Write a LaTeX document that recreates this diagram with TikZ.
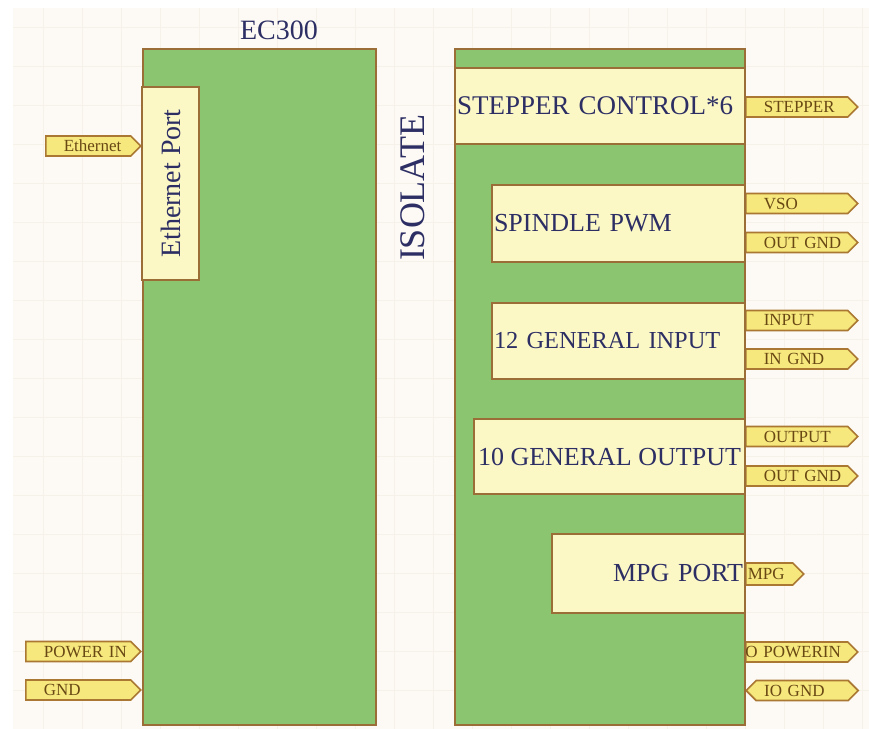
\documentclass[tikz,border=0pt]{standalone}
\usepackage{fontspec}
\setmainfont{Liberation Serif}
\usetikzlibrary{shapes.symbols}

\definecolor{boardgreen}{RGB}{140,197,112}
\definecolor{boardedge}{RGB}{155,110,55}
\definecolor{modfill}{RGB}{252,248,198}
\definecolor{portfill}{RGB}{246,232,125}
\definecolor{portedge}{RGB}{170,120,50}
\definecolor{porttext}{RGB}{105,72,20}
\definecolor{labeltext}{RGB}{44,46,100}
\definecolor{sheet}{RGB}{253,250,245}
\definecolor{sheetgrid}{RGB}{246,242,234}

\begin{document}
\begin{tikzpicture}[x=0.5pt, y=-0.5pt,
  board/.style={draw=boardedge, fill=boardgreen, line width=1pt, anchor=north west, inner sep=0pt},
  module/.style={draw=boardedge, fill=modfill, line width=1pt, anchor=north west, inner sep=1pt, text=labeltext, font=\fontsize{13}{15}\selectfont},
  heading/.style={text=labeltext, inner sep=0pt},
  port/.style={signal, signal to=east, signal from=nowhere, draw=portedge, fill=portfill, line width=0.8pt, text=porttext, font=\fontsize{8.5}{9}\selectfont, inner xsep=9pt, inner ysep=0.5pt, minimum height=10pt, text width=33pt, align=left, anchor=west},
  gridline/.style={draw=sheetgrid, line width=0.5pt}]
\useasboundingbox (0,0) rectangle (869,729);
\fill[white] (0,0) rectangle (869,729);
\fill[sheet] (13,8) rectangle (869,729);
\foreach \gx in {43,82,...,869} \draw[gridline] (\gx,8) -- (\gx,729);
\foreach \gy in {27,66,...,729} \draw[gridline] (13,\gy) -- (869,\gy);

% ports
\node[port, text width=24.5pt] (ethPort) at (45,146) {Ethernet};
\node[port, text width=34.5pt] (powerIn) at (25,651.5) {POWER~IN};
\node[port, text width=34.5pt] (gndPort) at (25,690) {GND};
\node[port] (stepperPort) at (745,107) {STEPPER};
\node[port] (vsoPort) at (745,203.5) {VSO};
\node[port] (spindleGnd) at (745,242.5) {OUT~GND};
\node[port] (inputPort) at (745,320.5) {INPUT};
\node[port] (inputGnd) at (745,359) {IN~GND};
\node[port] (outputPort) at (745,436.5) {OUTPUT};
\node[port] (outputGnd) at (745,476) {OUT~GND};
\node[port, inner xsep=1pt, text width=21.5pt, minimum height=11pt] (mpgPort) at (745,574) {MPG};
\node[port] (ioPower) at (745,652) {\hspace*{-12pt}\mbox{IO POWERIN}};
\node[port, signal to=west and east, inner xsep=4pt, text width=38pt] (ioGnd) at (745,690.5) {IO~GND};

% boards
\node[board, minimum width=116.5pt, minimum height=338pt] (ec300) at (142,48) {};
\node[board, minimum width=145pt, minimum height=338pt] (isoBoard) at (454,48) {};

% modules
\node[module, rotate=90, anchor=center, minimum width=96.5pt, minimum height=28.5pt, font=\fontsize{14}{16}\selectfont] (ethModule) at (170.5,183.5) {Ethernet Port};
\node[module, text width=143pt, align=left, minimum height=38pt, font=\fontsize{13.5}{15}\selectfont] (stepper) at (454,67) {STEPPER CONTROL*6};
\node[module, text width=124.5pt, align=left, minimum height=38.5pt] (spindle) at (491,184) {SPINDLE PWM};
\node[module, text width=124.5pt, align=left, minimum height=38pt, font=\fontsize{12.2}{14}\selectfont] (genInput) at (491,302) {12 GENERAL INPUT};
\node[module, minimum width=135.5pt, minimum height=37.5pt] (genOutput) at (473,418) {10 GENERAL OUTPUT};
\node[module, text width=94.5pt, align=right, minimum height=39.5pt] (mpgModule) at (551,533) {MPG PORT};

% headings
\node[heading, font=\fontsize{14}{16}\selectfont] (ecTitle) at (279,30) {EC300};
\node[heading, rotate=90, font=\fontsize{18}{20}\selectfont] (isolate) at (413,188) {ISOLATE};
\end{tikzpicture}
\end{document}
